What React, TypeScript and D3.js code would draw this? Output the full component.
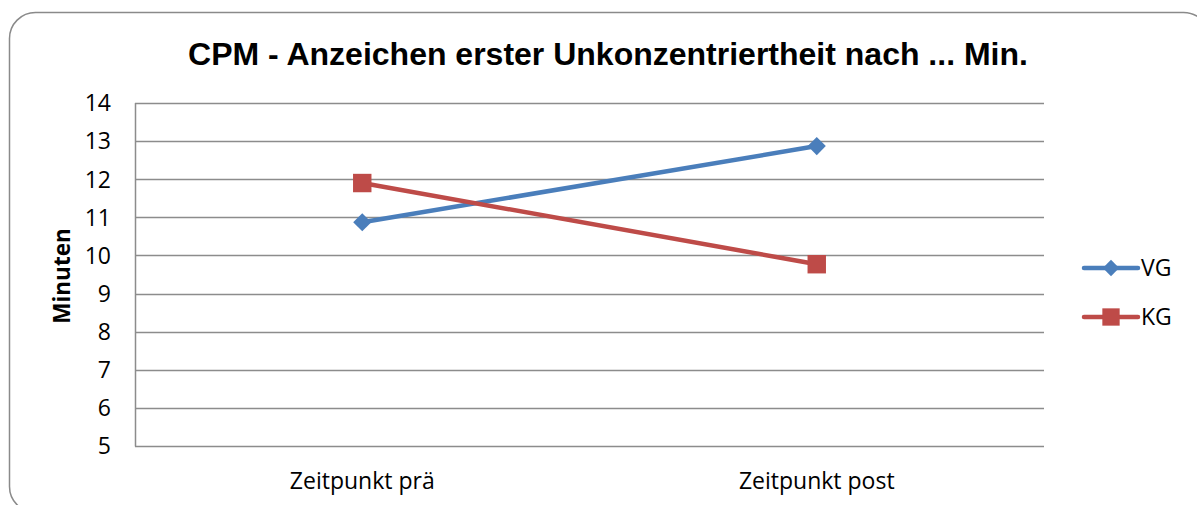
import React, { useEffect, useRef } from "react";
import * as d3 from "d3";

const categories = ["Zeitpunkt prä", "Zeitpunkt post"];
const seriesNames = ["VG", "KG"];
const vgValues = [10.87, 12.87];
const kgValues = [11.9, 9.77];
const yTicks = [5, 6, 7, 8, 9, 10, 11, 12, 13, 14];
const colors = ["#4a7ebb", "#be4b48"];

const W = 1197;
const H = 505;

export default function App() {
  const ref = useRef<SVGSVGElement | null>(null);

  useEffect(() => {
    const svg = d3.select(ref.current);
    svg.selectAll("*").remove();

    const left = 135, right = 1044, top = 103, bottom = 446;
    const tickFont = "'Open Sans', sans-serif";

    // outer frame
    svg.append("rect")
      .attr("x", 9.5).attr("y", 12.5)
      .attr("width", 1200).attr("height", 500)
      .attr("rx", 26).attr("ry", 26)
      .attr("fill", "white").attr("stroke", "#8a8a8a").attr("stroke-width", 1.5);

    svg.append("text")
      .attr("x", 608).attr("y", 65)
      .attr("text-anchor", "middle")
      .attr("font-family", "'Liberation Sans', Arial, sans-serif")
      .attr("font-weight", "bold").attr("font-size", 32)
      .text("CPM - Anzeichen erster Unkonzentriertheit nach ... Min.");

    const x = d3.scaleBand().domain(categories).range([left, right]);
    const y = d3.scaleLinear().domain([5, 14]).range([bottom, top]);

    // grid
    svg.append("g").selectAll("line").data(yTicks).join("line")
      .attr("x1", left).attr("x2", right)
      .attr("y1", d => Math.round(y(d)) + 0.5).attr("y2", d => Math.round(y(d)) + 0.5)
      .attr("stroke", "#8c8c8c").attr("stroke-width", 1.5);

    svg.append("line")
      .attr("x1", left + 0.5).attr("x2", left + 0.5)
      .attr("y1", top).attr("y2", bottom + 0.5)
      .attr("stroke", "#8c8c8c").attr("stroke-width", 1.5);

    svg.append("g").selectAll("text").data(yTicks).join("text")
      .attr("x", 111).attr("y", d => y(d))
      .attr("dy", "0.36em")
      .attr("text-anchor", "end")
      .attr("font-family", tickFont).attr("font-size", 23)
      .text(d => d);

    svg.append("g").selectAll("text").data(categories).join("text")
      .attr("x", d => (x(d) as number) + x.bandwidth() / 2)
      .attr("y", 489)
      .attr("text-anchor", "middle")
      .attr("font-family", tickFont).attr("font-size", 23)
      .text(d => d);

    svg.append("text")
      .attr("transform", "translate(70,276) rotate(-90)")
      .attr("text-anchor", "middle")
      .attr("font-family", tickFont).attr("font-weight", "bold").attr("font-size", 22.5)
      .text("Minuten");

    const cx = (c: string) => (x(c) as number) + x.bandwidth() / 2;
    const line = d3.line<[number, number]>();
    const diamond = d3.symbol().type(d3.symbolDiamond2).size(210);
    const square = d3.symbol().type(d3.symbolSquare).size(340);
    const series = [vgValues, kgValues];
    const symbols = [diamond, square];

    series.forEach((vals, i) => {
      const pts: [number, number][] = vals.map((v, k) => [cx(categories[k]), y(v)]);
      svg.append("path")
        .attr("d", line(pts))
        .attr("fill", "none").attr("stroke", colors[i]).attr("stroke-width", 4.5);
      svg.append("g").selectAll("path").data(pts).join("path")
        .attr("transform", d => `translate(${d[0]},${d[1]})`)
        .attr("d", symbols[i]() as string)
        .attr("fill", colors[i]);
    });

    // legend
    seriesNames.forEach((name, i) => {
      const ly = 268 + i * 49;
      svg.append("line")
        .attr("x1", 1084).attr("x2", 1138).attr("y1", ly).attr("y2", ly)
        .attr("stroke", colors[i]).attr("stroke-width", 4.5).attr("stroke-linecap", "round");
      svg.append("path")
        .attr("transform", `translate(1111,${ly})`)
        .attr("d", (i === 0 ? d3.symbol().type(d3.symbolDiamond2).size(170) : d3.symbol().type(d3.symbolSquare).size(300))() as string)
        .attr("fill", colors[i]);
      svg.append("text")
        .attr("x", 1141).attr("y", ly).attr("dy", "0.36em")
        .attr("font-family", tickFont).attr("font-size", 23)
        .text(name);
    });
  }, []);

  return (
    <svg ref={ref} width={W} height={H}
      style={{ position: "absolute", left: 0, top: 0, background: "white" }} />
  );
}
